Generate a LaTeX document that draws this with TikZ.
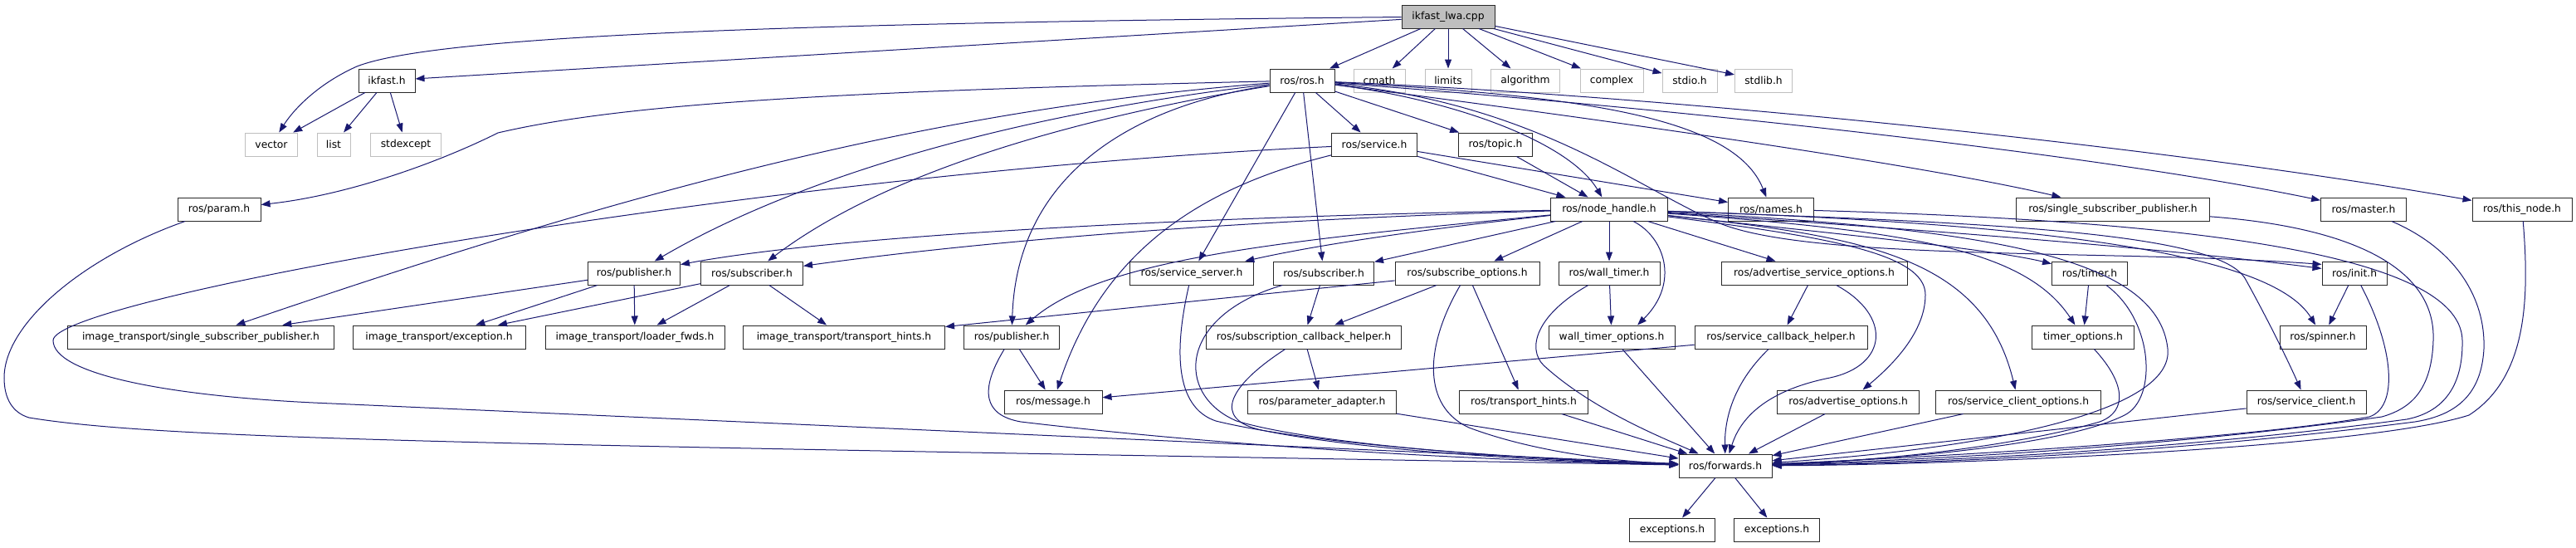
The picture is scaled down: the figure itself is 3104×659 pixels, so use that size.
\documentclass[tikz,border=0pt]{standalone}
\usepackage{fontspec}
\usetikzlibrary{arrows.meta}
\newfontfamily\graphfont{DejaVu Sans}
\definecolor{edgeblue}{RGB}{25,25,112}
\definecolor{sysgray}{RGB}{191,191,191}
\definecolor{maingray}{RGB}{191,191,191}
\definecolor{boxline}{RGB}{40,40,40}
\tikzset{
  box/.style={draw=boxline, fill=white, line width=1pt, minimum height=28pt, inner sep=0pt,
    font=\graphfont\fontsize{12.3}{14}\selectfont, text=black},
  sysbox/.style={box, draw=sysgray},
  mainbox/.style={box, fill=maingray},
  dep/.style={draw=edgeblue, line width=1pt, -{Triangle[length=11pt,width=8pt]}},
}
\begin{document}
\begin{tikzpicture}[x=1pt,y=-1pt]
\path[use as bounding box, fill=white] (0,0) rectangle (3104,659);
% rank 0
\node[mainbox, minimum width=112pt] (cpp) at (1745,20) {ikfast\_lwa.cpp};
% rank 1
\node[box, minimum width=68pt] (ikfasth) at (466,97) {ikfast.h};
\node[box, minimum width=78pt] (rosh) at (1569,97) {ros/ros.h};
\node[sysbox, minimum width=62pt] (cmath) at (1662,97) {cmath};
\node[sysbox, minimum width=56pt] (limits) at (1745,97) {limits};
\node[sysbox, minimum width=83pt] (algorithm) at (1838,97) {algorithm};
\node[sysbox, minimum width=76pt] (complex) at (1942,97) {complex};
\node[sysbox, minimum width=66pt] (stdio) at (2036,97) {stdio.h};
\node[sysbox, minimum width=69pt] (stdlib) at (2125,97) {stdlib.h};
% rank 2
\node[sysbox, minimum width=63pt] (vector) at (327,174) {vector};
\node[sysbox, minimum width=40pt] (list) at (402,174) {list};
\node[sysbox, minimum width=85pt] (stdexcept) at (489,174) {stdexcept};
\node[box, minimum width=103pt] (service) at (1656,174) {ros/service.h};
\node[box, minimum width=89pt] (topic) at (1802,174) {ros/topic.h};
% rank 3
\node[box, minimum width=100pt] (param) at (264,252) {ros/param.h};
\node[box, minimum width=141pt] (nodeh) at (1939,252) {ros/node\_handle.h};
\node[box, minimum width=103pt] (names) at (2134,252) {ros/names.h};
\node[box, minimum width=233pt] (rssp) at (2546,252) {ros/single\_subscriber\_publisher.h};
\node[box, minimum width=103pt] (master) at (2848,252) {ros/master.h};
\node[box, minimum width=120pt] (thisnode) at (3039,252) {ros/this\_node.h};
% rank 4
\node[box, minimum width=111pt] (itpub) at (764,329) {ros/publisher.h};
\node[box, minimum width=123pt] (itsub) at (906,329) {ros/subscriber.h};
\node[box, minimum width=149pt] (srvserver) at (1436,329) {ros/service\_server.h};
\node[box, minimum width=121pt] (rossub) at (1595,329) {ros/subscriber.h};
\node[box, minimum width=174pt] (subopts) at (1768,329) {ros/subscribe\_options.h};
\node[box, minimum width=122pt] (walltimer) at (1939,329) {ros/wall\_timer.h};
\node[box, minimum width=224pt] (advsrvopts) at (2186,329) {ros/advertise\_service\_options.h};
\node[box, minimum width=91pt] (timer) at (2518,329) {ros/timer.h};
\node[box, minimum width=78pt] (init) at (2837,329) {ros/init.h};
% rank 5
\node[box, minimum width=321pt] (itssp) at (242,406) {image\_transport/single\_subscriber\_publisher.h};
\node[box, minimum width=208pt] (itexc) at (529,406) {image\_transport/exception.h};
\node[box, minimum width=216pt] (itloader) at (765,406) {image\_transport/loader\_fwds.h};
\node[box, minimum width=243pt] (ithints) at (1017,406) {image\_transport/transport\_hints.h};
\node[box, minimum width=115pt] (rospub) at (1219,406) {ros/publisher.h};
\node[box, minimum width=235pt] (subcb) at (1571,406) {ros/subscription\_callback\_helper.h};
\node[box, minimum width=152pt] (wtopts) at (1942,406) {wall\_timer\_options.h};
\node[box, minimum width=208pt] (srvcb) at (2146,406) {ros/service\_callback\_helper.h};
\node[box, minimum width=123pt] (timeropts) at (2510,406) {timer\_options.h};
\node[box, minimum width=104pt] (spinner) at (2799,406) {ros/spinner.h};
% rank 6
\node[box, minimum width=118pt] (message) at (1269,484) {ros/message.h};
\node[box, minimum width=179pt] (padapter) at (1593,484) {ros/parameter\_adapter.h};
\node[box, minimum width=155pt] (transhints) at (1836,484) {ros/transport\_hints.h};
\node[box, minimum width=171pt] (advopts) at (2227,484) {ros/advertise\_options.h};
\node[box, minimum width=199pt] (srvcopts) at (2432,484) {ros/service\_client\_options.h};
\node[box, minimum width=144pt] (srvclient) at (2779,484) {ros/service\_client.h};
% rank 7, 8
\node[box, minimum width=112pt] (forwards) at (2079,561) {ros/forwards.h};
\node[box, minimum width=103pt] (exca) at (2015,638) {exceptions.h};
\node[box, minimum width=103pt] (excb) at (2141,638) {exceptions.h};

% ---- edges from ikfast_lwa.cpp
\draw[dep] (cpp) -- (rosh);
\draw[dep] (cpp) -- (cmath);
\draw[dep] (cpp) -- (limits);
\draw[dep] (cpp) -- (algorithm);
\draw[dep] (cpp) -- (complex);
\draw[dep] (cpp) -- (stdio);
\draw[dep] (cpp) -- (stdlib);
\draw[dep] (cpp) -- (ikfasth);
\draw[dep] (cpp) .. controls (900,28) and (520,45) .. (430,80) .. controls (385,100) and (355,130) .. (vector);
% ---- ikfast.h
\draw[dep] (ikfasth) -- (vector);
\draw[dep] (ikfasth) -- (list);
\draw[dep] (ikfasth) -- (stdexcept);
% ---- ros/ros.h
\draw[dep] (rosh) .. controls (1000,110) and (750,125) .. (600,160) .. controls (530,195) and (420,235) .. (param);
\draw[dep] (rosh) .. controls (1150,130) and (800,215) .. (itssp);
\draw[dep] (rosh) .. controls (1200,140) and (950,220) .. (itpub);
\draw[dep] (rosh) .. controls (1250,150) and (1050,220) .. (itsub);
\draw[dep] (rosh) .. controls (1350,130) and (1225,220) .. (rospub);
\draw[dep] (rosh) -- (srvserver);
\draw[dep] (rosh) -- (rossub);
\draw[dep] (rosh) -- (service);
\draw[dep] (rosh) -- (topic);
\draw[dep] (rosh) .. controls (1750,120) and (1890,170) .. (nodeh);
\draw[dep] (rosh) .. controls (1900,115) and (2090,140) .. (names);
\draw[dep] (rosh) .. controls (1900,140) and (2300,195) .. (rssp);
\draw[dep] (rosh) .. controls (1950,125) and (2500,180) .. (master);
\draw[dep] (rosh) .. controls (2000,115) and (2600,175) .. (thisnode);
\draw[dep] (rosh) .. controls (1850,125) and (1970,225) .. (2070,268) .. controls (2180,315) and (2550,300) .. (init.165);
% ---- ros/service.h, ros/topic.h
\draw[dep] (service) -- (names);
\draw[dep] (service) -- (nodeh);
\draw[dep] (topic) -- (nodeh);
\draw[dep] (service) .. controls (1450,225) and (1330,300) .. (message);
\draw[dep] (service) .. controls (900,210) and (64,360) .. (64,410) .. controls (64,450) and (200,478) .. (400,486) -- (forwards);
% ---- ros/param.h
\draw[dep] (param) .. controls (100,310) and (5,390) .. (5,455) .. controls (5,480) and (15,497) .. (35,503) .. controls (200,530) and (600,535) .. (forwards);
% ---- ros/node_handle.h, left side
\draw[dep] (nodeh) .. controls (1400,262) and (1000,285) .. (itpub);
\draw[dep] (nodeh) .. controls (1450,266) and (1150,295) .. (itsub);
\draw[dep] (nodeh) .. controls (1750,272) and (1600,292) .. (srvserver);
\draw[dep] (nodeh) -- (rossub);
\draw[dep] (nodeh) .. controls (1550,290) and (1330,310) .. (rospub);
\draw[dep] (nodeh) -- (subopts);
\draw[dep] (nodeh) -- (walltimer);
% ---- ros/node_handle.h, right side
\draw[dep] (nodeh) -- (advsrvopts);
\draw[dep] (nodeh) .. controls (2005,285) and (2025,340) .. (wtopts.25);
\draw[dep] (nodeh) .. controls (2200,280) and (2400,300) .. (timer);
\draw[dep] (nodeh) .. controls (2300,275) and (2600,298) .. (init.172);
\draw[dep] (nodeh) .. controls (2500,270) and (2740,310) .. (spinner);
\draw[dep] (nodeh) .. controls (2400,268) and (2670,280) .. (2705,335) .. controls (2730,380) and (2755,430) .. (srvclient);
\draw[dep] (nodeh) .. controls (2250,285) and (2390,310) .. (srvcopts);
\draw[dep] (nodeh) .. controls (2300,278) and (2440,300) .. (timeropts);
\draw[dep] (nodeh) .. controls (2200,285) and (2320,305) .. (2320,355) .. controls (2320,400) and (2280,440) .. (advopts);
\draw[dep] (nodeh) .. controls (2400,275) and (2600,310) .. (2612,420) .. controls (2620,495) and (2400,540) .. (forwards);
% ---- image_transport publisher / subscriber
\draw[dep] (itpub) -- (itssp);
\draw[dep] (itpub) -- (itexc);
\draw[dep] (itpub) -- (itloader);
\draw[dep] (itsub) -- (itexc);
\draw[dep] (itsub) -- (itloader);
\draw[dep] (itsub) -- (ithints);
% ---- ros publisher / service server / subscriber
\draw[dep] (rospub) -- (message);
\draw[dep] (rospub) .. controls (1180,470) and (1185,500) .. (1230,508) .. controls (1500,540) and (1800,555) .. (forwards);
\draw[dep] (srvserver) .. controls (1415,420) and (1415,490) .. (1465,507) .. controls (1600,540) and (1900,555) .. (forwards);
\draw[dep] (rossub) -- (subcb);
\draw[dep] (rossub) .. controls (1420,380) and (1415,475) .. (1490,507) .. controls (1600,540) and (1900,556) .. (forwards);
\draw[dep] (subcb) -- (padapter);
\draw[dep] (subcb) .. controls (1480,465) and (1460,505) .. (1520,518) .. controls (1650,545) and (1900,557) .. (forwards);
\draw[dep] (padapter) -- (forwards);
% ---- subscribe options
\draw[dep] (subopts) -- (ithints);
\draw[dep] (subopts) -- (subcb);
\draw[dep] (subopts) -- (transhints);
\draw[dep] (subopts) .. controls (1715,420) and (1715,490) .. (1770,515) .. controls (1850,545) and (1950,556) .. (forwards);
\draw[dep] (transhints) -- (forwards);
% ---- wall timer
\draw[dep] (walltimer) -- (wtopts);
\draw[dep] (walltimer) .. controls (1850,380) and (1840,420) .. (1860,440) .. controls (1920,495) and (2010,530) .. (forwards);
\draw[dep] (wtopts) -- (forwards);
% ---- service options / helpers
\draw[dep] (srvcb) -- (message);
\draw[dep] (srvcb) .. controls (2085,465) and (2078,510) .. (forwards);
\draw[dep] (advsrvopts) -- (srvcb);
\draw[dep] (advsrvopts) .. controls (2280,380) and (2275,440) .. (2205,455) .. controls (2120,472) and (2095,510) .. (forwards);
\draw[dep] (advopts) -- (forwards);
\draw[dep] (srvcopts) -- (forwards);
% ---- timer
\draw[dep] (timer) -- (timeropts);
\draw[dep] (timer) .. controls (2595,385) and (2600,480) .. (2560,500) .. controls (2480,540) and (2250,555) .. (forwards);
\draw[dep] (timeropts) .. controls (2560,460) and (2565,495) .. (2530,508) .. controls (2420,540) and (2250,556) .. (forwards);
\draw[dep] (srvclient) -- (forwards);
% ---- init
\draw[dep] (init) -- (spinner);
\draw[dep] (init) .. controls (2885,420) and (2890,490) .. (2855,502) .. controls (2700,530) and (2300,552) .. (forwards);
% ---- right-hand loops
\draw[dep] (rssp) .. controls (2850,275) and (2935,330) .. (2932,410) .. controls (2930,470) and (2905,492) .. (2870,502) .. controls (2600,540) and (2300,555) .. (forwards);
\draw[dep] (names) .. controls (2600,265) and (2965,300) .. (2967,410) .. controls (2968,470) and (2940,497) .. (2900,505) .. controls (2600,545) and (2300,557) .. (forwards);
\draw[dep] (master) .. controls (2960,300) and (2995,360) .. (2993,420) .. controls (2990,475) and (2960,500) .. (2910,508) .. controls (2600,548) and (2300,559) .. (forwards);
\draw[dep] (thisnode) .. controls (3048,360) and (3045,455) .. (2975,500) .. controls (2850,540) and (2350,560) .. (forwards);
% ---- forwards
\draw[dep] (forwards) -- (exca);
\draw[dep] (forwards) -- (excb);
\end{tikzpicture}
\end{document}
